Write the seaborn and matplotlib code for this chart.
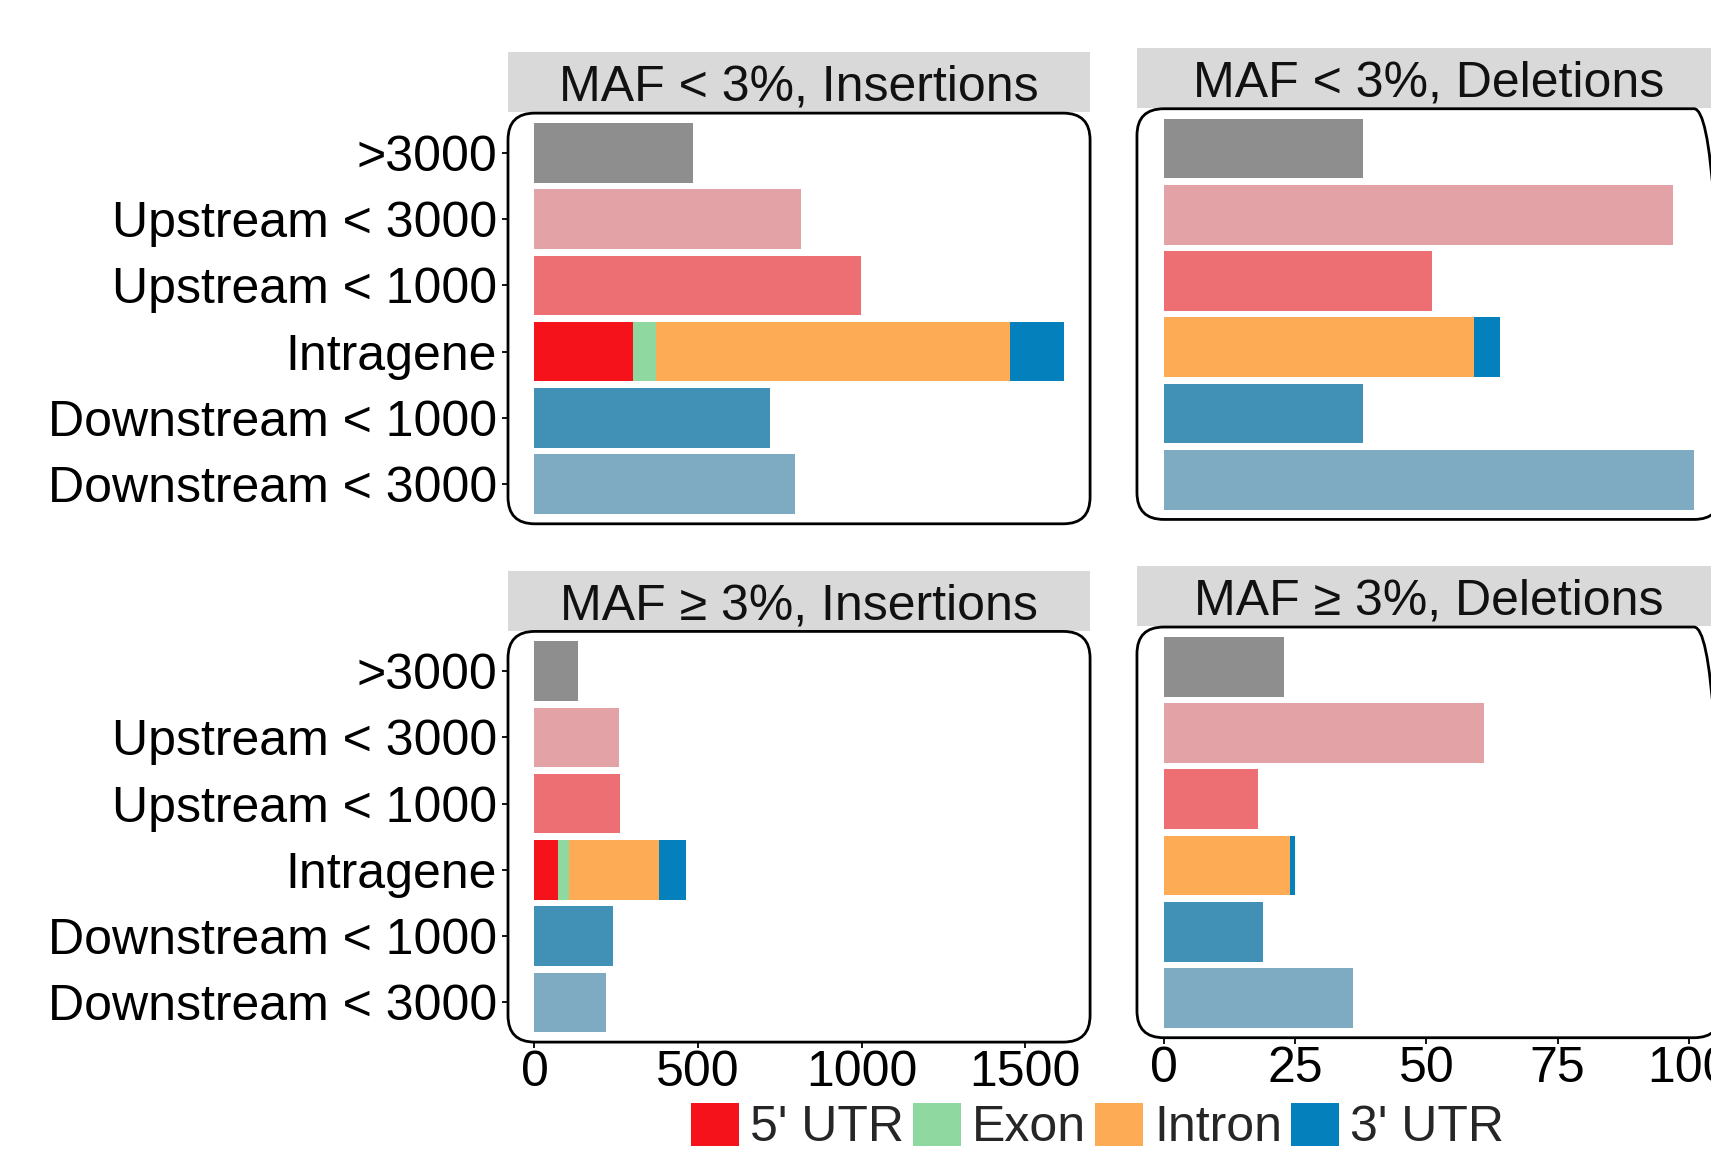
import matplotlib
matplotlib.use("Agg")
import numpy as np
import pandas as pd
import matplotlib.pyplot as plt
import seaborn as sns
from matplotlib.patches import FancyBboxPatch, Rectangle, Patch

# ---------------- data ----------------
categories = [">3000", "Upstream < 3000", "Upstream < 1000", "Intragene",
              "Downstream < 1000", "Downstream < 3000"]
region_colors = ["#8e8e8e", "#e3a3a6", "#ee6f73", None, "#4190b6", "#7eaac2"]
parts = ["5' UTR", "Exon", "Intron", "3' UTR"]
part_colors = ["#f5121a", "#8fd8a0", "#fdab55", "#0480bd"]

titles = ["MAF < 3%, Insertions", "MAF < 3%, Deletions",
          "MAF \u2265 3%, Insertions", "MAF \u2265 3%, Deletions"]

# counts per region (None = Intragene, given separately by part)
ins_rare = [484, 815, 998, None, 719, 797]
ins_rare_intra = [302, 70, 1081, 164]
del_rare = [38, 97, 51, None, 38, 101]
del_rare_intra = [0, 0, 59, 5]
ins_common = [134, 259, 261, None, 241, 220]
ins_common_intra = [71, 35, 276, 81]
del_common = [23, 61, 18, None, 19, 36]
del_common_intra = [0, 0, 24, 1]

ins_ticks = [0, 500, 1000, 1500]
del_ticks = [0, 25, 50, 75, 100]

# ---------------- style ----------------
sns.set_style("white")
plt.rcParams["font.family"] = ["Liberation Sans", "DejaVu Sans"]
FS = 36

fig = plt.figure(figsize=(17.11, 11.52), dpi=100, facecolor="white")

W_FIG, H_FIG = 1711, 1152
ax_h = 0.3565
lx, lw = 0.2969, 0.3402
rx, rw = 0.6645, 0.3413
top_y, bot_y = 0.5453, 0.0954
roff = 0.0038

pos = [
    [lx, top_y, lw, ax_h],
    [rx, top_y + roff, rw, ax_h],
    [lx, bot_y, lw, ax_h],
    [rx, bot_y + roff, rw, ax_h],
]
panels = [
    (ins_rare, ins_rare_intra, ins_ticks),
    (del_rare, del_rare_intra, del_ticks),
    (ins_common, ins_common_intra, ins_ticks),
    (del_common, del_common_intra, del_ticks),
]
col_max = [
    max(max(v for v in ins_rare + ins_common if v is not None),
        sum(ins_rare_intra), sum(ins_common_intra)),
    max(max(v for v in del_rare + del_common if v is not None),
        sum(del_rare_intra), sum(del_common_intra)),
]

for i, (p, (vals, intra, ticks)) in enumerate(zip(pos, panels)):
    ax = fig.add_axes(p)
    col = i % 2
    row = i // 2
    cats = [c for c, v in zip(categories, vals) if v is not None]
    df = pd.DataFrame({"category": cats,
                       "count": [v for v in vals if v is not None]})
    pal = {c: cc for c, cc in zip(categories, region_colors) if cc is not None}
    sns.barplot(data=df, x="count", y="category", hue="category",
                order=categories, hue_order=cats, palette=pal, orient="h",
                width=0.9, saturation=1, legend=False, linewidth=0, ax=ax)
    cum = np.cumsum(intra)
    for total, c in reversed(list(zip(cum, part_colors))):
        sns.barplot(x=[total], y=["Intragene"], order=categories, color=c,
                    orient="h", width=0.9, saturation=1, linewidth=0, ax=ax)

    m = col_max[col]
    ax.set_xlim(-0.05 * m, 1.05 * m)
    ax.set_ylim(len(categories) - 1 + 0.6, -0.6)
    ax.set_xlabel("")
    ax.set_ylabel("")
    for s in ax.spines.values():
        s.set_visible(False)
    ax.grid(False)

    # rounded panel border
    wpx = p[2] * W_FIG
    hpx = p[3] * H_FIG
    box = FancyBboxPatch((0, 0), 1, 1,
                         boxstyle="round,pad=0,rounding_size=0.046",
                         transform=ax.transAxes, mutation_aspect=wpx / hpx,
                         fill=False, lw=2.0, ec="black", clip_on=False,
                         zorder=5)
    ax.add_patch(box)

    # strip
    sh = 60 / hpx
    ax.add_patch(Rectangle((0, 1.002), 1, sh, transform=ax.transAxes,
                           facecolor="#d9d9d9", edgecolor="none",
                           clip_on=False, zorder=4))
    ax.text(0.5, 1.002 + sh / 2 - 5.5 / hpx, titles[i], transform=ax.transAxes,
            ha="center", va="center", fontsize=FS, color="#111111",
            zorder=6)

    # y axis
    if col == 0:
        ax.tick_params(axis="y", left=True, length=4.5, width=1.3,
                       pad=3.5, labelsize=FS, colors="black")
    else:
        ax.tick_params(axis="y", left=False, labelleft=False)

    # x axis
    ax.set_xticks(ticks)
    if row == 1:
        ax.tick_params(axis="x", bottom=True, length=4.5, width=1.3,
                       pad=1.5, labelsize=FS, colors="black")
    else:
        ax.tick_params(axis="x", bottom=False, labelbottom=False)

handles = [Patch(facecolor=c, edgecolor="none") for c in part_colors]
fig.legend(handles, parts, ncol=4, loc="center",
           bbox_to_anchor=(0.6416, 0.0217), frameon=False, fontsize=FS,
           handlelength=0.96, handleheight=0.96, handletextpad=0.22,
           columnspacing=0.18, borderpad=0, borderaxespad=0)

fig.savefig("out.png", dpi=100, facecolor="white")
